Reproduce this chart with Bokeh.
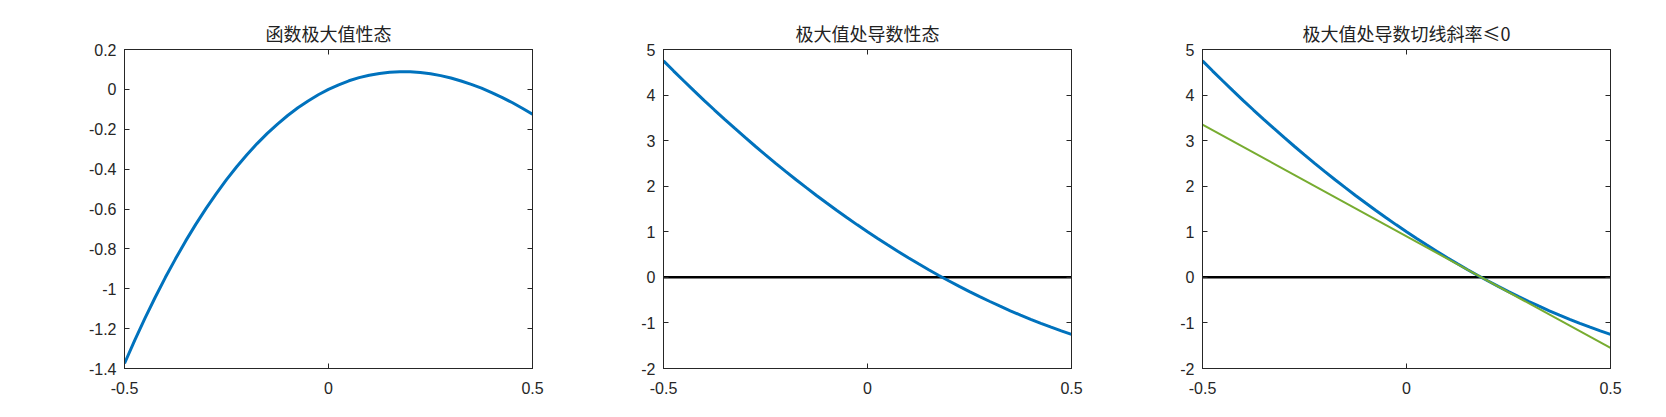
from bokeh.plotting import figure
from bokeh.layouts import row
from bokeh.models import LinearAxis, Range1d, FixedTicker, CustomLabelingPolicy
from bokeh.embed import file_html
from bokeh.resources import INLINE

# ---- data ----
x = [-0.5, -0.475, -0.45, -0.425, -0.4, -0.375, -0.35, -0.325, -0.3, -0.275, -0.25,
     -0.225, -0.2, -0.175, -0.15, -0.125, -0.1, -0.075, -0.05, -0.025, 0.0,
     0.025, 0.05, 0.075, 0.1, 0.125, 0.15, 0.175, 0.2, 0.225, 0.25,
     0.275, 0.3, 0.325, 0.35, 0.375, 0.4, 0.425, 0.45, 0.475, 0.5]
f_vals = [-1.375, -1.259, -1.149, -1.044, -0.944, -0.850, -0.760, -0.676, -0.597, -0.523, -0.453,
          -0.388, -0.328, -0.272, -0.221, -0.174, -0.131, -0.092, -0.058, -0.027, 0.0,
          0.023, 0.043, 0.059, 0.071, 0.080, 0.086, 0.088, 0.088, 0.085, 0.078,
          0.069, 0.057, 0.042, 0.025, 0.006, -0.016, -0.040, -0.066, -0.095, -0.125]
df_vals = [4.75, 4.527, 4.308, 4.092, 3.88, 3.672, 3.468, 3.267, 3.07, 2.877, 2.688,
           2.502, 2.32, 2.142, 1.968, 1.797, 1.63, 1.467, 1.308, 1.152, 1.0,
           0.852, 0.708, 0.567, 0.43, 0.297, 0.168, 0.042, -0.08, -0.198, -0.313,
           -0.423, -0.53, -0.633, -0.733, -0.828, -0.92, -1.008, -1.093, -1.173, -1.25]
zero_x = [-0.5, 0.5]
zero_y = [0.0, 0.0]
tangent_x = [-0.5, 0.5]
tangent_y = [3.35, -1.55]

titles = ["函数极大值性态", "极大值处导数性态", "极大值处导数切线斜率≤0"]
x_ticks = [-0.5, 0, 0.5]
x_tick_labels = ["-0.5", "0", "0.5"]
y1_ticks = [-1.4, -1.2, -1.0, -0.8, -0.6, -0.4, -0.2, 0.0, 0.2]
y1_tick_labels = ["-1.4", "-1.2", "-1", "-0.8", "-0.6", "-0.4", "-0.2", "0", "0.2"]
y2_ticks = [-2, -1, 0, 1, 2, 3, 4, 5]
y2_tick_labels = ["-2", "-1", "0", "1", "2", "3", "4", "5"]

BLUE = "#0072BD"
GREEN = "#77AC30"
AXC = "#262626"
TICK_FONT = "Liberation Sans"

NO_LABELS = CustomLabelingPolicy(code="""
const n = indices.size
for (let i = 0; i < n; i++) { indices.unset(i) }
return indices
""")


def style_axis(ax, ticks, labels, show):
    ax.major_tick_in = 5
    ax.major_tick_out = 0
    ax.minor_tick_in = 0
    ax.minor_tick_out = 0
    ax.axis_line_color = AXC
    ax.major_tick_line_color = AXC
    ax.major_label_text_font = TICK_FONT
    ax.major_label_text_font_size = "16px"
    ax.major_label_text_color = AXC
    if show:
        ax.major_label_overrides = {t: l for t, l in zip(ticks, labels)}
    else:
        ax.major_label_overrides = {t: "" for t in ticks}
        ax.major_label_policy = NO_LABELS
        ax.major_label_standoff = 0


def make_fig(title, yr, yticks, ylabels, left_border):
    p = figure(frame_width=408, frame_height=319, output_backend="svg", toolbar_location=None,
               x_range=Range1d(-0.5, 0.5), y_range=Range1d(*yr),
               min_border_left=left_border, min_border_right=15, min_border_top=49,
               min_border_bottom=38, x_axis_location=None, y_axis_location=None)
    p.title.text = title
    p.title.text_font = "Noto Sans CJK SC"
    p.title.text_font_style = "normal"
    p.title.text_font_size = "18px"
    p.title.text_color = "#222222"
    p.title.align = "center"
    p.title.standoff = 8
    p.grid.visible = False
    p.outline_line_color = AXC
    p.outline_line_width = 1
    p.outline_line_alpha = 1
    p.background_fill_color = "white"
    p.border_fill_color = "white"

    xb = LinearAxis(ticker=FixedTicker(ticks=x_ticks))
    style_axis(xb, x_ticks, x_tick_labels, True)
    xb.major_label_standoff = 13
    p.add_layout(xb, "below")
    xa = LinearAxis(ticker=FixedTicker(ticks=x_ticks))
    style_axis(xa, x_ticks, x_tick_labels, False)
    p.add_layout(xa, "above")

    yl = LinearAxis(ticker=FixedTicker(ticks=yticks))
    style_axis(yl, yticks, ylabels, True)
    yl.major_label_standoff = 8
    p.add_layout(yl, "left")
    yr_ax = LinearAxis(ticker=FixedTicker(ticks=yticks))
    style_axis(yr_ax, yticks, ylabels, False)
    p.add_layout(yr_ax, "right")
    return p


p1 = make_fig(titles[0], (-1.4, 0.2), y1_ticks, y1_tick_labels, 124)
p1.line(x, f_vals, line_color=BLUE, line_width=3)

p2 = make_fig(titles[1], (-2, 5), y2_ticks, y2_tick_labels, 116)
p2.line(zero_x, zero_y, line_color="black", line_width=2.5)
p2.line(x, df_vals, line_color=BLUE, line_width=3)

p3 = make_fig(titles[2], (-2, 5), y2_ticks, y2_tick_labels, 116)
p3.line(zero_x, zero_y, line_color="black", line_width=2.5)
p3.line(x, df_vals, line_color=BLUE, line_width=3)
p3.line(tangent_x, tangent_y, line_color=GREEN, line_width=2)

layout = row(p1, p2, p3, spacing=0)
open("out.html", "w").write(file_html(layout, INLINE))
